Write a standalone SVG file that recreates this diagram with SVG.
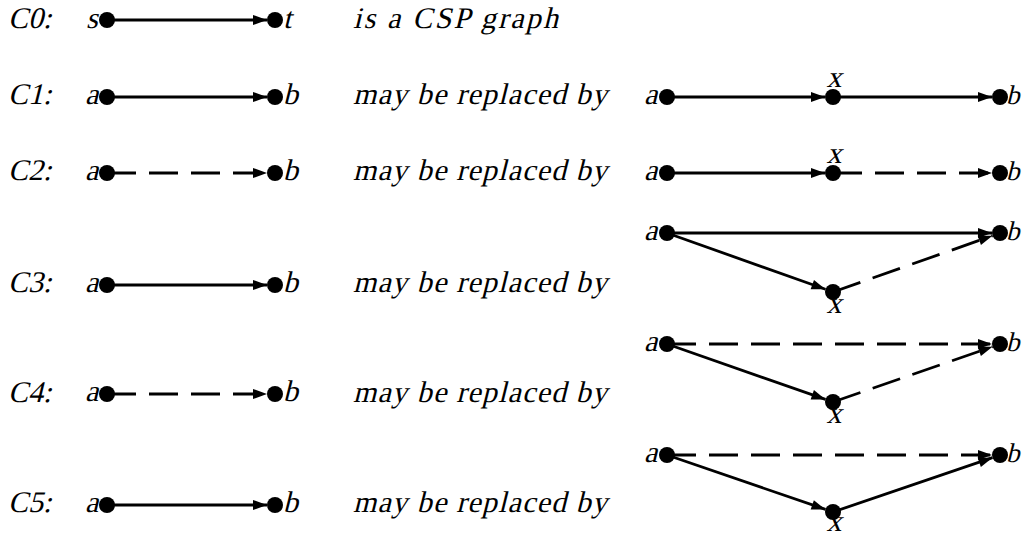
<svg xmlns="http://www.w3.org/2000/svg" width="1024" height="541" viewBox="0 0 1024 541">
<style>
text{font-family:"Liberation Serif","DejaVu Serif",serif;font-size:30px;font-style:normal;fill:#000}
.rb{font-size:27px}
.dot{fill:#000}
.e{stroke:#000;stroke-width:2.8;fill:none;marker-end:url(#ah)}
.d{stroke-dasharray:29 13}
.m{text-anchor:middle}
</style>
<defs>
<marker id="ah" markerUnits="userSpaceOnUse" markerWidth="14" markerHeight="10" refX="14" refY="5" orient="auto" overflow="visible">
<path d="M0,0 L14,5 L0,10 z" fill="#000"/>
</marker>
</defs>
<g id="labels">
<text transform="translate(8,28) skewX(-14)">C0:</text>
<text transform="translate(8,104) skewX(-14)">C1:</text>
<text transform="translate(8,180) skewX(-14)">C2:</text>
<text transform="translate(8,292) skewX(-14)">C3:</text>
<text transform="translate(8,402) skewX(-14)">C4:</text>
<text transform="translate(8,512) skewX(-14)">C5:</text>
<text transform="translate(353,28) skewX(-14)" textLength="205" lengthAdjust="spacing">is a CSP graph</text>
<text transform="translate(353,104) skewX(-14)" textLength="254" lengthAdjust="spacing">may be replaced by</text>
<text transform="translate(353,180) skewX(-14)" textLength="254" lengthAdjust="spacing">may be replaced by</text>
<text transform="translate(353,292) skewX(-14)" textLength="254" lengthAdjust="spacing">may be replaced by</text>
<text transform="translate(353,402) skewX(-14)" textLength="254" lengthAdjust="spacing">may be replaced by</text>
<text transform="translate(353,512) skewX(-14)" textLength="254" lengthAdjust="spacing">may be replaced by</text>
</g>
<g id="connectors">
<line class="e" x1="107" y1="20" x2="267" y2="20"/>
<line class="e" x1="107" y1="97" x2="267" y2="97"/>
<line class="e d" x1="107" y1="173" x2="267" y2="173"/>
<line class="e" x1="107" y1="285" x2="267" y2="285"/>
<line class="e d" x1="107" y1="394" x2="267" y2="394"/>
<line class="e" x1="107" y1="505" x2="267" y2="505"/>
<line class="e" x1="667" y1="97" x2="825" y2="97"/>
<line class="e" x1="833" y1="97" x2="992" y2="97"/>
<line class="e" x1="667" y1="173" x2="825" y2="173"/>
<line class="e d" x1="833" y1="173" x2="992" y2="173"/>
<line class="e" x1="667" y1="233" x2="992" y2="233"/>
<line class="e" x1="667" y1="233" x2="825.5" y2="289.3"/>
<line class="e d" x1="833" y1="292" x2="992.5" y2="235.7"/>
<line class="e d" x1="667" y1="344" x2="992" y2="344"/>
<line class="e" x1="667" y1="344" x2="825.5" y2="399.4"/>
<line class="e d" x1="833" y1="402" x2="992.5" y2="346.7"/>
<line class="e d" x1="667" y1="455" x2="992" y2="455"/>
<line class="e" x1="667" y1="455" x2="825.5" y2="509.4"/>
<line class="e" x1="833" y1="512" x2="992.5" y2="457.7"/>
</g>
<g id="c0-s"><circle class="dot" cx="107" cy="20" r="8"/><text transform="translate(86,28) skewX(-14)">s</text></g>
<g id="c0-t"><circle class="dot" cx="275" cy="20" r="8"/><text transform="translate(283,28) skewX(-14)">t</text></g>
<g id="c1-a"><circle class="dot" cx="107" cy="97" r="8"/><text transform="translate(85,104) skewX(-14)">a</text></g>
<g id="c1-b"><circle class="dot" cx="275" cy="97" r="8"/><text transform="translate(283,104) skewX(-14)">b</text></g>
<g id="c2-a"><circle class="dot" cx="107" cy="173" r="8"/><text transform="translate(85,180) skewX(-14)">a</text></g>
<g id="c2-b"><circle class="dot" cx="275" cy="173" r="8"/><text transform="translate(283,180) skewX(-14)">b</text></g>
<g id="c3-a"><circle class="dot" cx="107" cy="285" r="8"/><text transform="translate(85,292) skewX(-14)">a</text></g>
<g id="c3-b"><circle class="dot" cx="275" cy="285" r="8"/><text transform="translate(283,292) skewX(-14)">b</text></g>
<g id="c4-a"><circle class="dot" cx="107" cy="394" r="8"/><text transform="translate(85,401) skewX(-14)">a</text></g>
<g id="c4-b"><circle class="dot" cx="275" cy="394" r="8"/><text transform="translate(283,401) skewX(-14)">b</text></g>
<g id="c5-a"><circle class="dot" cx="107" cy="505" r="8"/><text transform="translate(85,512) skewX(-14)">a</text></g>
<g id="c5-b"><circle class="dot" cx="275" cy="505" r="8"/><text transform="translate(283,512) skewX(-14)">b</text></g>
<g id="r1-a"><circle class="dot" cx="667" cy="97" r="8"/><text transform="translate(644,104) skewX(-14)">a</text></g>
<g id="r1-x"><circle class="dot" cx="833" cy="97" r="8"/><text class="m" transform="translate(834,87) skewX(-14)">x</text></g>
<g id="r1-b"><circle class="dot" cx="1000" cy="97" r="8"/><text class="rb" transform="translate(1006,104) skewX(-14)">b</text></g>
<g id="r2-a"><circle class="dot" cx="667" cy="173" r="8"/><text transform="translate(644,180) skewX(-14)">a</text></g>
<g id="r2-x"><circle class="dot" cx="833" cy="173" r="8"/><text class="m" transform="translate(834,163) skewX(-14)">x</text></g>
<g id="r2-b"><circle class="dot" cx="1000" cy="173" r="8"/><text class="rb" transform="translate(1006,180) skewX(-14)">b</text></g>
<g id="r3-a"><circle class="dot" cx="667" cy="233" r="8"/><text transform="translate(644,240) skewX(-14)">a</text></g>
<g id="r3-x"><circle class="dot" cx="833" cy="292" r="8"/><text class="m" transform="translate(834,313) skewX(-14)">x</text></g>
<g id="r3-b"><circle class="dot" cx="1000" cy="233" r="8"/><text class="rb" transform="translate(1006,240) skewX(-14)">b</text></g>
<g id="r4-a"><circle class="dot" cx="667" cy="344" r="8"/><text transform="translate(644,351) skewX(-14)">a</text></g>
<g id="r4-x"><circle class="dot" cx="833" cy="402" r="8"/><text class="m" transform="translate(834,423) skewX(-14)">x</text></g>
<g id="r4-b"><circle class="dot" cx="1000" cy="344" r="8"/><text class="rb" transform="translate(1006,351) skewX(-14)">b</text></g>
<g id="r5-a"><circle class="dot" cx="667" cy="455" r="8"/><text transform="translate(644,462) skewX(-14)">a</text></g>
<g id="r5-x"><circle class="dot" cx="833" cy="512" r="8"/><text class="m" transform="translate(834,531) skewX(-14)">x</text></g>
<g id="r5-b"><circle class="dot" cx="1000" cy="455" r="8"/><text class="rb" transform="translate(1006,462) skewX(-14)">b</text></g>
</svg>
